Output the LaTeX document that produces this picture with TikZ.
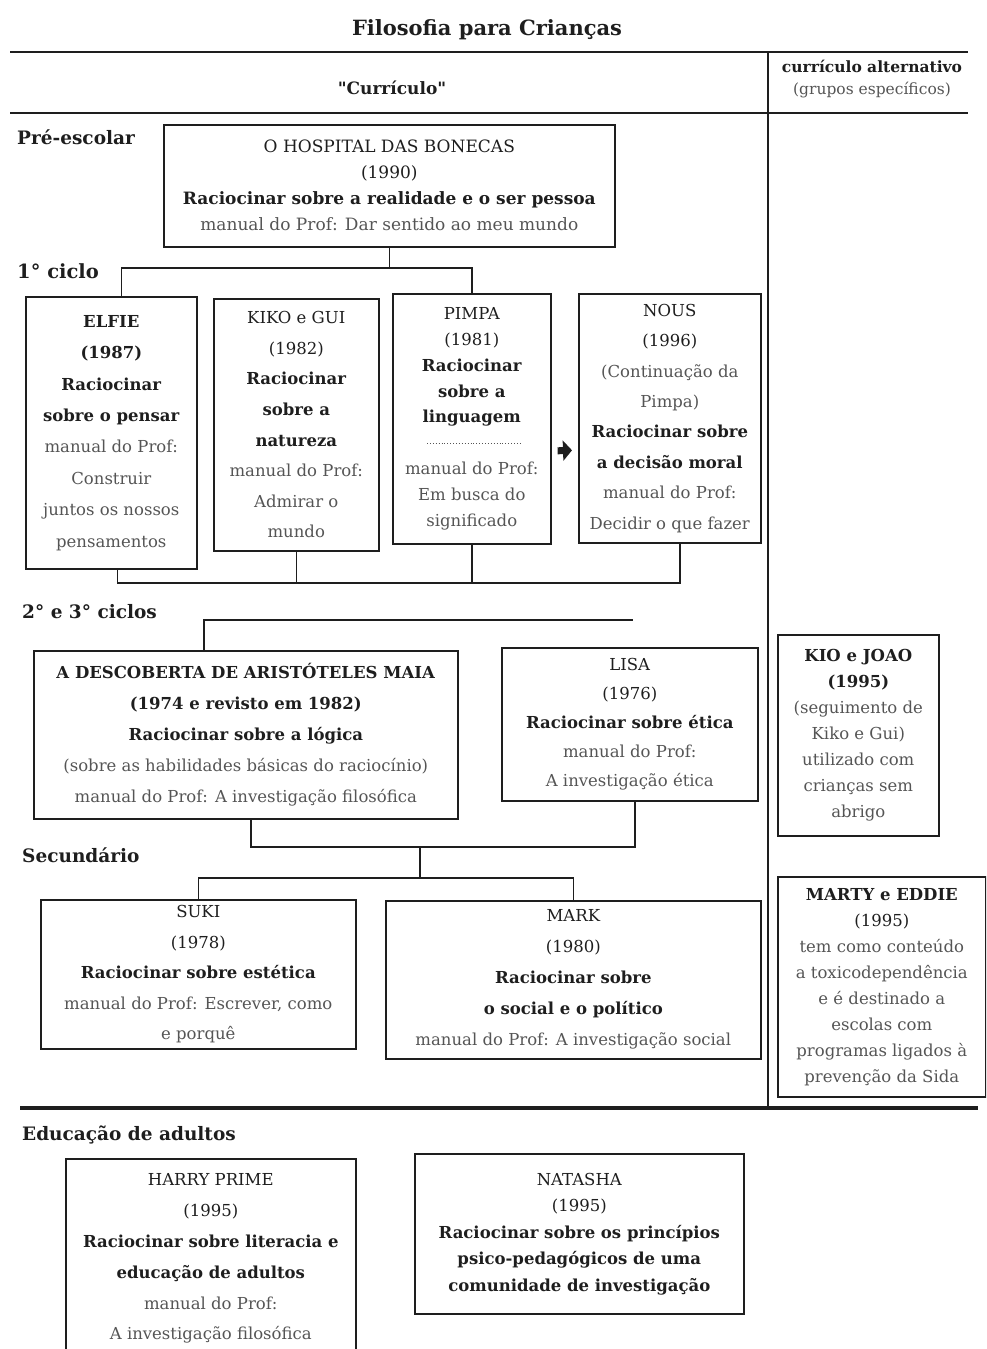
\documentclass[tikz,border=0pt]{standalone}
\usepackage{fontspec}
\setmainfont{DejaVu Serif}
\newfontfamily\qfont{DejaVu Serif}[Ligatures=TeXOff]
\usetikzlibrary{calc,arrows.meta}
\definecolor{ink}{HTML}{1E1E1E}
\definecolor{soft}{HTML}{555555}
\newcommand\bd[1]{\textbf{#1}}
\newcommand\gy[1]{\textcolor{soft}{#1}}
\begin{document}
\begin{tikzpicture}[x=1pt,y=-1pt,
  box/.style={draw=ink, line width=1.6pt, inner sep=0pt, align=center, anchor=north west, text=ink},
  conn/.style={draw=ink, line width=1.6pt},
  rule/.style={draw=ink},
  lab/.style={anchor=west, inner sep=0pt, font=\fontsize{18.5}{20}\selectfont\bfseries, text=ink},
  head/.style={inner sep=0pt, text=ink, align=center}]
\useasboundingbox (0,0) rectangle (986,1349);
\clip (0,0) rectangle (986,1349);

% title and header rules
\node[head, font=\fontsize{21}{24}\selectfont\bfseries] (title) at (487,30) {Filosofia para Crianças};
\draw[rule, line width=2.5pt] (10,52) -- (968,52);
\draw[rule, line width=2pt] (10,113) -- (968,113);
\draw[rule, line width=1.2pt] (768,52) -- (768,1107);
\draw[rule, line width=3.5pt] (20,1108) -- (978,1108);
\node[head, font=\fontsize{17}{20}\selectfont\bfseries\qfont] (curr) at (392,88) {"Currículo"};
\node[head, font=\fontsize{15.5}{22}\selectfont] (alt) at (872,79) {\bd{currículo alternativo}\\\gy{(grupos específicos)}};

% level labels
\node[lab] (l1) at (17,137) {Pré-escolar};
\node[lab, font=\fontsize{19.5}{22}\selectfont\bfseries] (l2) at (17,271) {1° ciclo};
\node[lab] (l3) at (22,612) {2° e 3° ciclos};
\node[lab] (l4) at (22,855) {Secundário};
\node[lab] (l5) at (22,1135) {Educação de adultos};

% boxes
\node[box, minimum width=451pt, minimum height=122pt, font=\fontsize{17}{26}\selectfont] (hosp) at (163,124)
  {O HOSPITAL DAS BONECAS\\(1990)\\\bd{Raciocinar sobre a realidade e o ser pessoa}\\\gy{manual do Prof: Dar sentido ao meu mundo}};

\node[box, minimum width=171pt, minimum height=272pt, font=\fontsize{16.5}{31.4}\selectfont] (elfie) at (25,296)
  {\bd{ELFIE}\\\bd{(1987)}\\\bd{Raciocinar}\\\bd{sobre o pensar}\\\gy{manual do Prof:}\\\gy{Construir}\\\gy{juntos os nossos}\\\gy{pensamentos}};

\node[box, minimum width=165pt, minimum height=252pt, font=\fontsize{16.5}{30.6}\selectfont] (kiko) at (213,298)
  {KIKO e GUI\\(1982)\\\bd{Raciocinar}\\\bd{sobre a}\\\bd{natureza}\\\gy{manual do Prof:}\\\gy{Admirar o}\\\gy{mundo}};

\node[box, minimum width=158pt, minimum height=250pt, font=\fontsize{16.5}{25.9}\selectfont] (pimpa) at (392,293)
  {PIMPA\\(1981)\\\bd{Raciocinar}\\\bd{sobre a}\\\bd{linguagem}\\\mbox{}\\\gy{manual do Prof:}\\\gy{Em busca do}\\\gy{significado}};

\node[box, minimum width=182pt, minimum height=249pt, font=\fontsize{16.5}{30.4}\selectfont] (nous) at (578,293)
  {NOUS\\(1996)\\\gy{(Continuação da}\\\gy{Pimpa)}\\\bd{Raciocinar sobre}\\\bd{a decisão moral}\\\gy{manual do Prof:}\\\gy{Decidir o que fazer}};

\node[box, minimum width=424pt, minimum height=168pt, font=\fontsize{16.5}{31}\selectfont] (arist) at (33,650)
  {\bd{A DESCOBERTA DE ARISTÓTELES MAIA}\\\bd{(1974 e revisto em 1982)}\\\bd{Raciocinar sobre a lógica}\\\gy{(sobre as habilidades básicas do raciocínio)}\\\gy{manual do Prof: A investigação filosófica}};

\node[box, minimum width=256pt, minimum height=153pt, font=\fontsize{16.5}{29}\selectfont] (lisa) at (501,647)
  {LISA\\(1976)\\\bd{Raciocinar sobre ética}\\\gy{manual do Prof:}\\\gy{A investigação ética}};

\node[box, minimum width=161pt, minimum height=201pt, font=\fontsize{16.5}{26}\selectfont] (kio) at (777,634)
  {\bd{KIO e JOAO}\\\bd{(1995)}\\\gy{(seguimento de}\\\gy{Kiko e Gui)}\\\gy{utilizado com}\\\gy{crianças sem}\\\gy{abrigo}};

\node[box, minimum width=315pt, minimum height=149pt, font=\fontsize{16.5}{30.5}\selectfont] (suki) at (40,899)
  {SUKI\\(1978)\\\bd{Raciocinar sobre estética}\\\gy{manual do Prof: Escrever, como}\\\gy{e porquê}};

\node[box, minimum width=375pt, minimum height=158pt, font=\fontsize{16.5}{31}\selectfont] (mark) at (385,900)
  {MARK\\(1980)\\\bd{Raciocinar sobre}\\\bd{o social e o político}\\\gy{manual do Prof: A investigação social}};

\node[box, minimum width=208pt, minimum height=220pt, font=\fontsize{16.5}{26}\selectfont] (marty) at (777,876)
  {\bd{MARTY e EDDIE}\\(1995)\\\gy{tem como conteúdo}\\\gy{a toxicodependência}\\\gy{e é destinado a}\\\gy{escolas com}\\\gy{programas ligados à}\\\gy{prevenção da Sida}};

\node[box, minimum width=290pt, minimum height=200pt, font=\fontsize{16.5}{30.8}\selectfont] (harry) at (65,1158)
  {HARRY PRIME\\(1995)\\\bd{Raciocinar sobre literacia e}\\\bd{educação de adultos}\\\gy{manual do Prof:}\\\gy{A investigação filosófica}};

\node[box, minimum width=329pt, minimum height=160pt, font=\fontsize{16.5}{26.5}\selectfont] (natasha) at (414,1153)
  {NATASHA\\(1995)\\\bd{Raciocinar sobre os princípios}\\\bd{psico-pedagógicos de uma}\\\bd{comunidade de investigação}};

% dotted separator inside PIMPA
\draw[soft, dotted, line width=0.9pt] ($(pimpa.north west)+(35,150)$) -- ($(pimpa.north west)+(128,150)$);

% connectors: pre-school -> 1st cycle
\coordinate (y268) at (0,268);
\coordinate (y583) at (0,583);
\coordinate (elfT) at ([xshift=10pt]elfie.north);
\coordinate (elfB) at ([xshift=6pt]elfie.south);
\coordinate (nouB) at ([xshift=10pt]nous.south);
\draw[conn] (hosp.south) -- (hosp.south |- y268);
\draw[conn] (elfT) |- (pimpa.north |- y268) -- (pimpa.north);
\draw[conn] (elfB) |- (nouB |- y583) -- (nouB);
\draw[conn] (kiko.south) -- (kiko.south |- y583);
\draw[conn] (pimpa.south) -- (pimpa.south |- y583);

% PIMPA -> NOUS arrow
\draw[draw=ink, line width=7pt, -{Triangle[length=9pt,width=20pt]}] ($(pimpa.east)+(6,32)$) -- ($(nous.west)+(-6,32)$);

% 2nd/3rd cycles
\coordinate (y620) at (0,620);
\coordinate (free1) at (633,620);
\coordinate (arT) at ([xshift=-42pt]arist.north);
\draw[conn] (arT) |- (free1);
\coordinate (y847) at (0,847);
\coordinate (y878) at (0,878);
\coordinate (arB) at ([xshift=5pt]arist.south);
\coordinate (liB) at ([xshift=5pt]lisa.south);
\draw[conn] (arB) |- (liB |- y847) -- (liB);
\coordinate (j3) at (420,847);
\coordinate (j4) at (420,878);
\draw[conn] (j3) -- (j4);
\draw[conn] (suki.north) |- (mark.north |- y878) -- (mark.north);
\end{tikzpicture}
\end{document}
